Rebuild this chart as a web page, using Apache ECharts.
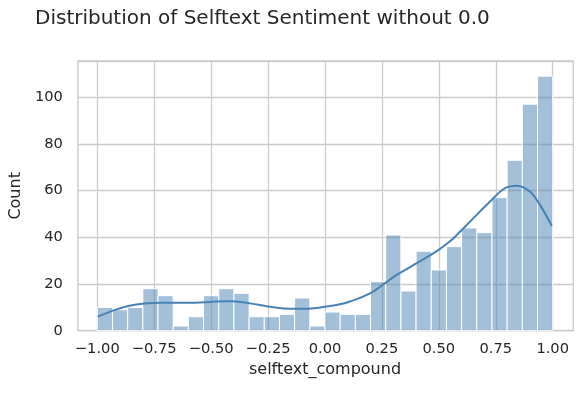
<!DOCTYPE html>
<html>
<head>
<meta charset="utf-8">
<script src="https://cdn.jsdelivr.net/npm/echarts@6/dist/echarts.min.js"></script>
<style>
html,body{margin:0;padding:0;background:#fff;}
#chart{width:584px;height:393px;}
</style>
</head>
<body>
<div id="chart"></div>
<script>
// Histogram bins
const binStart = -1.0;
const binCount = 30;
const binWidth = 2 / 30;
const counts = [10, 9, 10, 18, 15, 2, 6, 15, 18, 16, 6, 6, 7, 14, 2,
                8, 7, 7, 21, 41, 17, 34, 26, 36, 44, 42, 57, 73, 97, 109];

// KDE curve (in count units)
const kdeX = [-0.998, -0.922, -0.864, -0.791, -0.717, -0.571, -0.491, -0.417, -0.329, -0.242,
              -0.154, -0.080, -0.022, 0.022, 0.066, 0.110, 0.198, 0.256, 0.315, 0.403,
              0.491, 0.549, 0.585, 0.637, 0.725, 0.790, 0.842, 0.900, 0.944, 0.996];
const kdeY = [6.0, 8.9, 10.6, 11.7, 12.0, 12.0, 12.4, 12.6, 11.7, 10.3,
              9.4, 9.4, 9.9, 10.6, 11.3, 12.5, 16.0, 19.8, 23.9, 28.9,
              34.1, 38.3, 41.6, 46.7, 55.3, 61.0, 62.1, 59.6, 53.9, 44.9];

const xTickStep = 0.25;
const yTickStep = 20;
const yMax = 115.5;

const titleText = 'Distribution of Selftext Sentiment without 0.0';
const xName = 'selftext_compound';
const yName = 'Count';

const histData = counts.map((c, i) => [binStart + i * binWidth, binStart + (i + 1) * binWidth, c]);
const kdeData = kdeX.map((x, i) => [x, kdeY[i]]);

const textColor = '#262626';
const gridColor = '#cccccc';
const font = 'DejaVu Sans';

const chart = echarts.init(document.getElementById('chart'), null, {renderer: 'canvas'});
chart.setOption({
  animation: false,
  backgroundColor: '#ffffff',
  title: {
    text: titleText,
    left: 35, top: 9, padding: 0,
    textStyle: {fontFamily: font, fontSize: 20, fontWeight: 'normal', color: textColor}
  },
  grid: [
    {left: 76, right: 10.7, top: 61, bottom: 62.3, show: true, borderColor: gridColor, borderWidth: 1.33, backgroundColor: 'transparent'},
    {left: 97.3, right: 31.3, top: 61, bottom: 62.3, show: false}
  ],
  xAxis: [
    {gridIndex: 0, type: 'value', min: 0, max: 1, show: false},
    {
      gridIndex: 1, type: 'value', min: -1, max: 1, interval: xTickStep,
      axisLine: {show: false}, axisTick: {show: false},
      splitLine: {show: true, lineStyle: {color: gridColor, width: 1.33}},
      axisLabel: {
        margin: 11, color: textColor, fontFamily: font, fontSize: 14.67,
        formatter: v => (v < 0 ? '\u2212' : '') + Math.abs(v).toFixed(2)
      },
      name: xName, nameLocation: 'middle', nameGap: 30,
      nameTextStyle: {color: textColor, fontFamily: font, fontSize: 16}
    }
  ],
  yAxis: [
    {
      gridIndex: 0, type: 'value', min: 0, max: yMax, interval: yTickStep,
      axisLine: {show: false}, axisTick: {show: false},
      splitLine: {show: true, lineStyle: {color: gridColor, width: 1.33}},
      axisLabel: {margin: 15, color: textColor, fontFamily: font, fontSize: 14.67,
        showMaxLabel: false, formatter: v => (v % 20 === 0 ? String(v) : '')},
      name: yName, nameLocation: 'middle', nameGap: 43,
      nameTextStyle: {color: textColor, fontFamily: font, fontSize: 16}
    },
    {gridIndex: 1, type: 'value', min: 0, max: yMax, show: false}
  ],
  series: [
    {
      type: 'custom',
      xAxisIndex: 1, yAxisIndex: 1,
      data: histData,
      encode: {x: [0, 1], y: 2},
      renderItem: function (params, api) {
        const p0 = api.coord([api.value(0), api.value(2)]);
        const p1 = api.coord([api.value(1), 0]);
        return {
          type: 'rect',
          shape: {x: p0[0], y: p0[1], width: p1[0] - p0[0], height: p1[1] - p0[1]},
          style: {fill: 'rgba(70,130,180,0.5)', stroke: '#ffffff', lineWidth: 1}
        };
      },
      z: 2
    },
    {
      type: 'line',
      xAxisIndex: 1, yAxisIndex: 1,
      data: kdeData,
      showSymbol: false,
      smooth: 0.4,
      lineStyle: {color: '#4682b4', width: 2},
      z: 3
    }
  ]
});
</script>
</body>
</html>
